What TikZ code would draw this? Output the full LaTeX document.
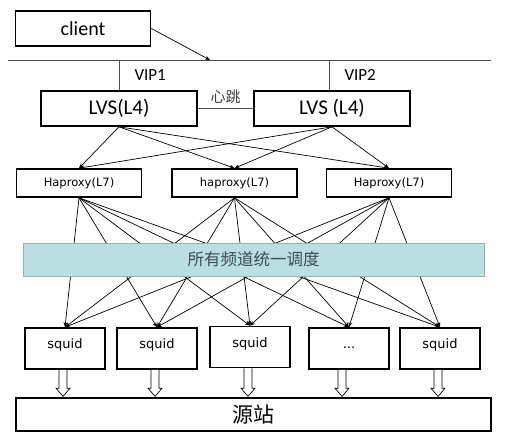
\documentclass[tikz,border=0pt]{standalone}
\usepackage{fontspec}
\setmainfont{Carlito}
\newfontfamily\dv{DejaVu Sans}
\newfontfamily\cjk{Noto Sans CJK SC}
\usetikzlibrary{arrows.meta,calc}
\definecolor{bandfill}{HTML}{BBDEE0}
\definecolor{bandline}{HTML}{8FB2B6}
\definecolor{bandtext}{HTML}{3B4D58}
\tikzset{
  box/.style={draw=black,line width=1.6pt,fill=white,inner sep=0pt,text=black},
  conn/.style={draw=black,line width=0.7pt},
  arr/.style={conn,-{Stealth[length=5pt,width=4pt]}},
  hollow/.style={draw=black,line width=0.7pt,fill=white,line join=miter},
  sq/.style={box,minimum width=80pt,minimum height=41pt,font=\dv\fontsize{13}{13}\selectfont,text height=6pt,text depth=6pt},
  hap/.style={box,minimum width=125pt,minimum height=28pt,font=\dv\fontsize{11.5}{12}\selectfont},
  lvs/.style={box,minimum width=156pt,minimum height=35pt,font=\fontsize{21}{22}\selectfont},
}
\begin{document}
\begin{tikzpicture}[x=1pt,y=-1pt]
\useasboundingbox[fill=white] (0,0) rectangle (523,434);
% client and bus
\node[box,minimum width=135pt,minimum height=35pt,font=\fontsize{20}{20}\selectfont] (client) at (83,28.5) {client};
\coordinate (busL) at (8,60);
\coordinate (busR) at (491,60);
\coordinate (hit) at (210,60);
\coordinate (v1) at (119,60);
\coordinate (v2) at (329,60);
\draw[draw=black!70,line width=0.7pt] (busL) -- (busR);
\draw[arr] (client.east) -- (hit);
% LVS
\node[lvs] (lvs1) at (119,108.5) {LVS(L4)};
\node[lvs] (lvs2) at (332,108.5) {LVS (L4)};
\draw[draw=black!70,line width=0.7pt] (v1) -- (v1 |- lvs1.north);
\draw[draw=black!70,line width=0.7pt] (v2) -- (v2 |- lvs2.north);
\node[font=\fontsize{17}{17}\selectfont,anchor=west] (vip1) at (131,75) {VIP1};
\node[font=\fontsize{17}{17}\selectfont,anchor=west] (vip2) at (341,75) {VIP2};
\draw[draw=black!70,line width=0.7pt] (lvs1.east) -- node[above=1pt,font=\cjk\fontsize{15}{15}\selectfont,text=black!75] (hb) {心跳} (lvs2.west);
% Haproxy
\node[hap] (h1) at (79,183) {Haproxy(L7)};
\node[hap] (h2) at (234.5,183) {haproxy(L7)};
\node[hap] (h3) at (389,183) {Haproxy(L7)};
\foreach \l in {lvs1,lvs2}{
  \foreach \h in {h1,h2,h3}{
    \draw[arr] (\l.south) -- (\h.north);
  }
}
% squids
\node[sq] (s1) at (65,348.5) {squid};
\node[sq] (s2) at (157,348.5) {squid};
\node[sq] (s3) at (250,347) {squid};
\node[sq] (s4) at (349,348.5) {...};
\node[sq] (s5) at (440,348.5) {squid};
\foreach \h in {h1,h2,h3}{
  \foreach \s in {s1,s2,s3,s4,s5}{
    \draw[arr] (\h.south) -- (\s.north);
  }
}
% band
\node[draw=bandline,line width=0.8pt,fill=bandfill,minimum width=461pt,minimum height=33pt,inner sep=0pt,font=\cjk\fontsize{16.5}{17}\selectfont,text=bandtext] (band) at (253.5,259.5) {所有频道统一调度};
% origin
\node[box,minimum width=475pt,minimum height=33pt,font=\cjk\fontsize{21}{22}\selectfont] (src) at (253.5,414.5) {源站};
\foreach \s/\o in {s1/-2,s2/-2,s3/-2,s4/-7,s5/-2}{
  \draw[hollow] let \p1=(\s.south), \p2=(src.north) in
    (\x1+\o pt-4pt,\y1) -- (\x1+\o pt-4pt,\y2+9pt) -- (\x1+\o pt-7pt,\y2+9pt) -- (\x1+\o pt,\y2+0.8pt)
    -- (\x1+\o pt+7pt,\y2+9pt) -- (\x1+\o pt+4pt,\y2+9pt) -- (\x1+\o pt+4pt,\y1);
}
\end{tikzpicture}
\end{document}
